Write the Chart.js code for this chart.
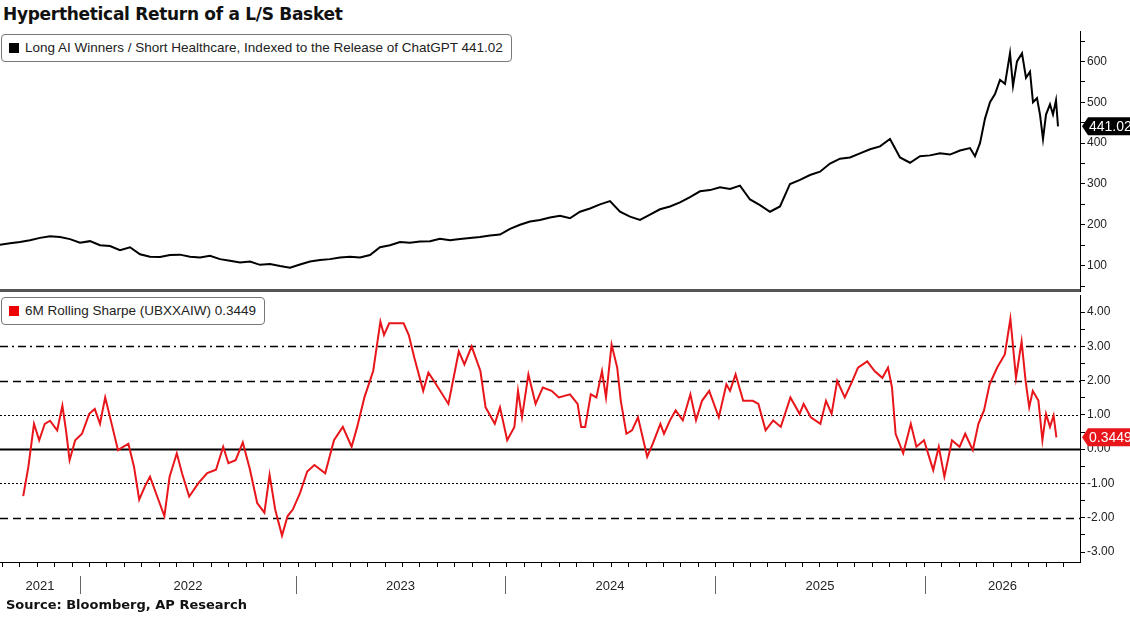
<!DOCTYPE html>
<html><head><meta charset="utf-8">
<script src="https://cdn.jsdelivr.net/npm/chart.js@4"></script>
<style>
body{margin:0;background:#fff;width:1130px;height:617px;overflow:hidden;position:relative;font-family:"Liberation Sans",Arial,sans-serif}
#title{position:absolute;left:3px;top:4px;font:bold 17px "DejaVu Sans";color:#111;letter-spacing:-0.3px}
#source{position:absolute;left:6px;top:597px;font:bold 13px "DejaVu Sans";color:#111}
.leg{position:absolute;background:#fff;border:1px solid #777;border-radius:4px;font:13.5px "Liberation Sans";color:#222;padding:0 8px 0 7px;height:26px;line-height:26px;z-index:5;white-space:nowrap}
.leg i{display:inline-block;width:10px;height:10px;margin-right:6px;vertical-align:-1px}
.wrap{position:absolute;left:0;width:1130px}
#sep{position:absolute;left:0;top:289px;width:1080px;height:3px;background:#555;z-index:4}
</style></head><body>
<div id="title">Hyperthetical Return of a L/S Basket</div>
<div class="leg" style="left:1px;top:34px"><i style="background:#000"></i>Long AI Winners / Short Healthcare, Indexed to the Release of ChatGPT 441.02</div>
<div class="leg" style="left:1px;top:297px"><i style="background:#e00"></i>6M Rolling Sharpe (UBXXAIW) 0.3449</div>
<div class="wrap" style="top:22px;height:279px"><canvas id="c1"></canvas></div>
<div id="sep"></div>
<div class="wrap" style="top:286px;height:314px"><canvas id="c2"></canvas></div>
<div id="source">Source: Bloomberg, AP Research</div>
<script>
// x unit: approx. weeks from chart start
const yearLabels = ["2021","2022","2023","2024","2025","2026"];
const yearStarts = [-60, 20, 74, 126.25, 178.75, 231.25];
const xMax = 270;
const basketStep = 2.5;
const basketValues = [151,155,158,162,168,172,170,165,156,160,150,148,138,145,128,122,121,126,127,122,120,124,116,112,108,110,102,104,99,95,103,110,114,116,120,122,120,126,145,150,158,156,159,160,166,162,165,168,170,174,176,190,200,208,212,218,222,216,232,240,250,258,232,220,212,225,238,245,255,268,282,285,292,288,296,262,248,232,245,300,310,322,330,350,362,365,375,385,392,410,365,352,368,370,375,372,382,388];
const basketTailWeeks = [243.75,245,246.25,247.5,248.75,250,251.25,252.5,253.25,254.25,255.5,256.5,257.5,258.25,259.25,260,260.75,261.5,262.5,263.25,264,264.5];
const basketTailValues = [368,400,460,500,520,555,545,620,540,600,620,560,575,500,510,470,410,470,495,470,505,441.02];
const sharpeWeeks = [5.8,7.1,8.5,9.8,11.2,12.5,14.3,15.6,16.5,17.4,18.8,20.5,22.3,23.7,25.0,26.3,27.7,29.5,30.8,32.1,33.5,34.8,36.2,37.5,39.3,41.1,42.4,44.2,45.5,47.3,49.6,51.8,54.0,55.8,57.1,58.9,60.7,62.5,64.3,66.1,67.4,68.8,70.5,71.9,73.2,75.0,76.8,78.6,81.3,83.5,85.7,87.9,89.3,91.1,93.3,95.1,96.0,97.3,100.9,102.2,103.6,105.8,107.1,108.5,112.1,114.7,116.1,117.9,120.1,121.4,123.7,125.0,126.8,128.6,129.5,130.5,132.1,133.9,135.7,137.9,139.7,142.5,144.4,145.3,146.3,147.7,149.1,150.5,151.5,152.9,154.3,155.2,156.6,158.0,159.5,161.8,163.2,165.1,166.0,167.5,168.9,170.7,172.6,174.0,175.5,177.3,179.7,181.6,182.5,183.9,185.8,188.2,189.6,191.4,193.3,195.2,197.6,199.9,200.9,202.7,205.1,206.5,207.9,209.3,211.2,213.1,214.5,216.8,218.7,220.6,222.0,223.0,223.9,225.8,227.7,229.1,231.0,233.3,234.7,236.1,238.0,239.9,241.3,243.2,244.6,246.0,247.4,249.3,251.2,252.6,254.0,255.4,256.4,257.3,258.2,259.6,260.6,261.5,262.5,263.4,264.1];
const sharpeValues = [-1.37,-0.51,0.74,0.26,0.74,0.83,0.55,1.27,0.55,-0.32,0.26,0.45,1.03,1.17,0.74,1.51,0.84,-0.03,0.07,0.16,-0.51,-1.47,-1.09,-0.8,-1.38,-1.95,-0.8,-0.12,-0.7,-1.38,-0.99,-0.7,-0.6,0.07,-0.41,-0.32,0.2,-0.6,-1.57,-1.85,-0.75,-1.76,-2.52,-1.95,-1.76,-1.28,-0.65,-0.46,-0.7,0.26,0.65,0.07,0.65,1.51,2.28,3.72,3.33,3.67,3.67,3.33,2.66,1.7,2.23,1.99,1.32,2.85,2.47,3.0,2.28,1.22,0.74,1.22,0.26,0.65,1.7,0.93,2.18,1.32,1.8,1.7,1.51,1.6,1.32,0.65,0.65,1.6,1.51,2.28,1.51,3.05,2.38,1.41,0.45,0.55,0.93,-0.22,0.16,0.74,0.45,0.84,1.13,0.84,1.6,0.84,1.41,1.7,0.93,1.89,1.7,2.18,1.41,1.41,1.32,0.55,0.84,0.65,1.51,1.03,1.32,0.93,0.74,1.41,1.03,1.99,1.51,1.99,2.38,2.56,2.27,2.08,2.38,1.8,0.45,-0.12,0.74,0.07,0.26,-0.61,0.07,-0.8,0.26,0.07,0.45,-0.03,0.74,1.13,1.89,2.38,2.76,3.8,2.08,3.14,1.99,1.22,1.7,1.42,0.26,1.03,0.65,0.98,0.3449];
const basketTicks = [100,200,300,400,500,600];
const sharpeTicks = [-3,-2,-1,0,1,2,3,4];

const basketData = basketValues.map((v,i)=>({x:i*basketStep,y:v})).concat(basketTailValues.map((v,i)=>({x:basketTailWeeks[i],y:v})));
const sharpeData = sharpeValues.map((v,i)=>({x:sharpeWeeks[i],y:v}));
const AXW = 50;

function yAxis(min,max,step,labels,fmt){
  return {position:'right',min:min,max:max,
    afterFit:s=>{s.width=AXW;},
    afterBuildTicks:s=>{const t=[];for(let v=Math.ceil(min/step)*step;v<=max+1e-9;v+=step)t.push({value:+v.toFixed(4)});s.ticks=t;},
    border:{display:true,color:'#000',width:1},
    grid:{drawOnChartArea:false,drawTicks:true,tickLength:5,color:'#000'},
    ticks:{color:'#222',font:{family:'Liberation Sans',size:12},padding:2,
      callback:v=>labels.some(l=>Math.abs(l-v)<1e-6)?fmt(v):''}};
}
function tag(ctx,x,y,text,bg){
  ctx.save();ctx.font='14px "Liberation Sans"';
  const w=ctx.measureText(text).width+4;
  ctx.fillStyle=bg;ctx.beginPath();
  ctx.moveTo(x,y);ctx.lineTo(x+6,y-9);ctx.lineTo(x+6+w,y-9);ctx.lineTo(x+6+w,y+9);ctx.lineTo(x+6,y+9);ctx.closePath();ctx.fill();
  ctx.fillStyle='#fff';ctx.textBaseline='middle';ctx.fillText(text,x+7,y+1);ctx.restore();
}
const xCommon={type:'linear',min:0,max:xMax,display:false};

new Chart(document.getElementById('c1'),{
  type:'line',
  data:{datasets:[{data:basketData,borderColor:'#000',borderWidth:2,pointRadius:0,tension:0}]},
  options:{responsive:true,maintainAspectRatio:false,animation:false,
    layout:{padding:{left:0,right:0,top:0,bottom:0}},
    plugins:{legend:{display:false},tooltip:{enabled:false}},
    scales:{x:xCommon,y:yAxis(36,674,50,basketTicks,v=>String(v))}},
  plugins:[{id:'tag1',afterDraw(c){const s=c.scales.y;tag(c.ctx,s.left+2,s.getPixelForValue(basketTailValues[basketTailValues.length-1]),'441.02','#000');}}]
});

new Chart(document.getElementById('c2'),{
  type:'line',
  data:{datasets:[{data:sharpeData,borderColor:'#e8161b',borderWidth:2,pointRadius:0,tension:0}]},
  options:{responsive:true,maintainAspectRatio:false,animation:false,
    layout:{padding:{left:0,right:0,top:0,bottom:38}},
    plugins:{legend:{display:false},tooltip:{enabled:false}},
    scales:{x:xCommon,y:yAxis(-3.29,4.49,0.5,sharpeTicks,v=>v.toFixed(2))}},
  plugins:[{id:'refs',
    beforeDatasetsDraw(c){
      const ctx=c.ctx,a=c.chartArea,y=c.scales.y;
      const lines=[[3,[8,4,2,4],1.5],[2,[8,5],1.5],[1,[2,2],1],[0,[],2],[-1,[2,2],1],[-2,[8,5],1.5]];
      ctx.save();ctx.strokeStyle='#000';
      lines.forEach(([v,d,w])=>{ctx.setLineDash(d);ctx.lineWidth=w;ctx.beginPath();const p=Math.round(y.getPixelForValue(v))+0.5;ctx.moveTo(a.left,p);ctx.lineTo(a.right,p);ctx.stroke();});
      ctx.restore();
    },
    afterDraw(c){
      const ctx=c.ctx,a=c.chartArea,x=c.scales.x,y=c.scales.y;
      ctx.save();ctx.strokeStyle='#000';ctx.lineWidth=1;
      ctx.beginPath();ctx.moveTo(a.left,a.bottom+0.5);ctx.lineTo(a.right,a.bottom+0.5);ctx.stroke();
      for(let w=0.5;w<xMax;w+=52.18/12){const p=Math.round(x.getPixelForValue(w))+0.5;ctx.beginPath();ctx.moveTo(p,a.bottom);ctx.lineTo(p,a.bottom+5);ctx.stroke();}
      ctx.strokeStyle='#666';
      yearStarts.slice(1).forEach(w=>{const p=Math.round(x.getPixelForValue(w))+0.5;ctx.beginPath();ctx.moveTo(p,a.bottom+14);ctx.lineTo(p,a.bottom+32);ctx.stroke();});
      ctx.fillStyle='#222';ctx.font='13px "Liberation Sans"';ctx.textAlign='center';ctx.textBaseline='middle';
      yearLabels.forEach((l,i)=>{const s=Math.max(0,x.getPixelForValue(yearStarts[i]));const e=i+1<yearStarts.length?x.getPixelForValue(yearStarts[i+1]):a.right;ctx.fillText(l,(s+e)/2,a.bottom+24);});
      ctx.restore();
      tag(ctx,y.left+2,y.getPixelForValue(sharpeValues[sharpeValues.length-1]),'0.3449','#e8161b');
    }}]
});
</script></body></html>
